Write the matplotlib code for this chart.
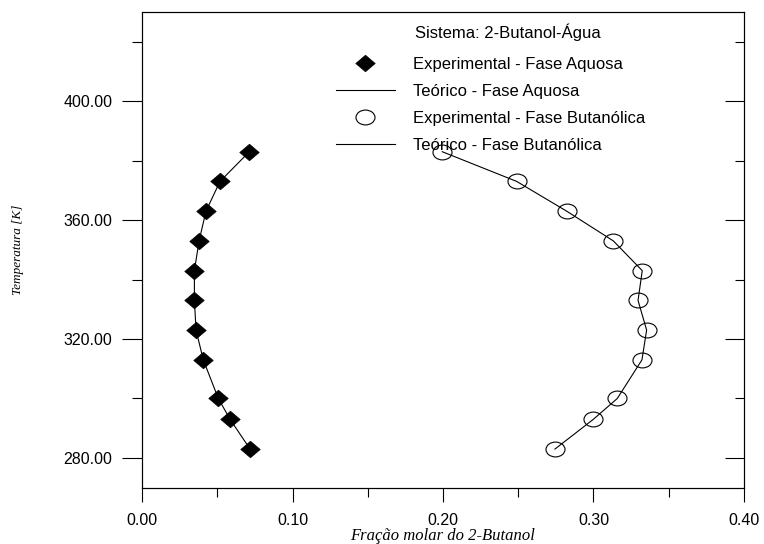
import numpy as np
import matplotlib.pyplot as plt
from matplotlib.path import Path
from matplotlib.lines import Line2D

plt.rcParams['font.family'] = ['Liberation Sans', 'DejaVu Sans']

# temperatura [K]
temp = [383, 373, 363, 353, 343, 333, 323, 313, 300, 293, 283]

# fracao molar de 2-butanol
x_aquosa = [0.0713, 0.0518, 0.0425, 0.0379, 0.0348, 0.0348, 0.0359, 0.0407, 0.0507, 0.0585, 0.0718]
x_butanolica = [0.1995, 0.2490, 0.2822, 0.3132, 0.3324, 0.3296, 0.3353, 0.3322, 0.3158, 0.2999, 0.2744]

# curvas teoricas
x_aquosa_teo = x_aquosa
x_butanolica_teo = x_butanolica

labels = ['Experimental - Fase Aquosa', 'Teórico - Fase Aquosa',
          'Experimental - Fase Butanólica', 'Teórico - Fase Butanólica']

# markers a bit wider than tall, like the original
diamond = Path([(-1, 0), (0, 0.85), (1, 0), (0, -0.85), (-1, 0)],
               [Path.MOVETO, Path.LINETO, Path.LINETO, Path.LINETO, Path.CLOSEPOLY])
circ = Path.unit_circle()
ellipse = Path(circ.vertices * np.array([1.0, 0.78]), circ.codes)

fig = plt.figure(figsize=(7.64, 5.44), dpi=100)
ax = fig.add_axes([0.1859, 0.1035, 0.7879, 0.8745])

ax.plot(x_aquosa_teo, temp, color='k', lw=0.8, zorder=2)
ax.plot(x_butanolica_teo, temp, color='k', lw=0.8, zorder=2)
ax.plot(x_aquosa, temp, ls='none', marker=diamond, ms=14, mfc='k', mec='k', mew=0.5, zorder=3)
ax.plot(x_butanolica, temp, ls='none', marker=ellipse, ms=13.7, mfc='none', mec='k', mew=0.8, zorder=3)

ax.set_xlim(0, 0.40)
ax.set_ylim(270, 430)
ax.set_xticks([0.0, 0.1, 0.2, 0.3, 0.4])
ax.set_xticks([0.05, 0.15, 0.25, 0.35], minor=True)
ax.set_yticks([280, 320, 360, 400])
ax.set_yticks([300, 340, 380, 420], minor=True)
ax.xaxis.set_major_formatter(plt.FormatStrFormatter('%.2f'))
ax.yaxis.set_major_formatter(plt.FormatStrFormatter('%.2f'))

ax.tick_params(axis='y', which='major', direction='out', length=14.4, width=0.8, pad=7, labelsize=11.5)
ax.tick_params(axis='y', which='minor', direction='out', length=7.2, width=0.8)
ax.tick_params(axis='x', which='major', direction='out', length=10, width=0.8, pad=8, labelsize=11.5)
ax.tick_params(axis='x', which='minor', direction='out', length=6.5, width=0.8)
ax.tick_params(top=False, right=False)
for s in ax.spines.values():
    s.set_linewidth(0.8)

# right side ticks point inward
ax2 = ax.twinx()
ax2.set_ylim(ax.get_ylim())
ax2.set_yticks([280, 320, 360, 400])
ax2.set_yticks([300, 340, 380, 420], minor=True)
ax2.tick_params(axis='y', which='major', direction='in', length=13.7, width=0.8, labelright=False)
ax2.tick_params(axis='y', which='minor', direction='in', length=6.5, width=0.8)
for s in ax2.spines.values():
    s.set_linewidth(0.8)

ax.set_xlabel('Fração molar do 2-Butanol', family='Liberation Serif', style='italic', fontsize=12, labelpad=0)
ax.set_ylabel('Temperatura [K]', family='Liberation Serif', style='italic', fontsize=9.5, labelpad=28)

handles = [
    Line2D([], [], ls='none', marker=diamond, ms=14, mfc='k', mec='k', mew=0.5),
    Line2D([], [], color='k', lw=0.8),
    Line2D([], [], ls='none', marker=ellipse, ms=13.7, mfc='none', mec='k', mew=0.8),
    Line2D([], [], color='k', lw=0.8),
]
fs = 12
fs_px = fs * 100 / 72
ax.legend(handles, labels, loc='upper left', bbox_to_anchor=(0.322, 0.906),
          frameon=False, borderpad=0, borderaxespad=0, fontsize=fs,
          handlelength=59 / fs_px, handletextpad=18 / fs_px, labelspacing=0.72)
ax.text(0.608, 0.958, 'Sistema: 2-Butanol-Água', transform=ax.transAxes,
        ha='center', va='center', fontsize=12)

fig.savefig('out.png', dpi=100)
